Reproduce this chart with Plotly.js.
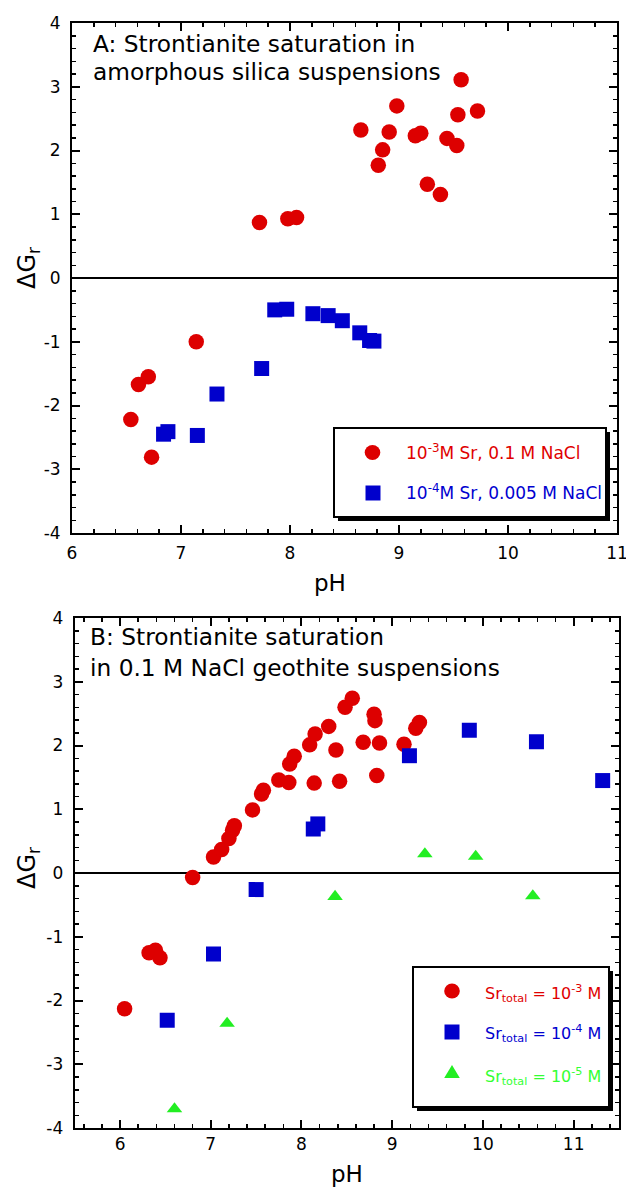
<!DOCTYPE html>
<html>
<head>
<meta charset="utf-8">
<script src="https://cdn.plot.ly/plotly-3.0.1.min.js"></script>
<style>
  html, body { margin: 0; padding: 0; background: #ffffff; }
  #chart { width: 626px; height: 1189px; }
</style>
</head>
<body>
<div id="chart"></div>
<script>
// Panel A: amorphous silica suspensions
var phA_sr3 = [6.54, 6.61, 6.70, 6.73, 7.14, 7.72, 7.98, 8.06, 8.65, 8.81, 8.85, 8.91, 8.98, 9.15, 9.20, 9.26, 9.38, 9.44, 9.53, 9.54, 9.57, 9.72];
var dgA_sr3 = [-2.22, -1.67, -1.55, -2.81, -1.00, 0.87, 0.93, 0.95, 2.32, 1.77, 2.01, 2.29, 2.70, 2.23, 2.27, 1.47, 1.31, 2.19, 2.08, 2.56, 3.11, 2.62];
var phA_sr4 = [6.84, 6.88, 7.15, 7.33, 7.74, 7.86, 7.97, 8.21, 8.35, 8.48, 8.64, 8.73, 8.77];
var dgA_sr4 = [-2.45, -2.41, -2.47, -1.82, -1.42, -0.50, -0.49, -0.56, -0.59, -0.67, -0.86, -0.98, -0.99];

// Panel B: 0.1 M NaCl goethite suspensions
var phB_sr3 = [6.05, 6.32, 6.39, 6.44, 6.80, 7.03, 7.12, 7.20, 7.24, 7.26, 7.46, 7.56, 7.58, 7.75, 7.86, 7.87, 7.92, 8.09, 8.14, 8.15, 8.30, 8.38, 8.42, 8.48, 8.56, 8.68, 8.80, 8.81, 8.83, 8.86, 9.13, 9.26, 9.30];
var dgB_sr3 = [-2.13, -1.25, -1.21, -1.33, -0.07, 0.25, 0.37, 0.54, 0.67, 0.74, 0.99, 1.24, 1.30, 1.46, 1.42, 1.71, 1.83, 2.01, 1.41, 2.18, 2.30, 1.93, 1.44, 2.60, 2.74, 2.05, 2.49, 2.39, 1.53, 2.04, 2.02, 2.27, 2.36];
var phB_sr4 = [6.52, 7.03, 7.50, 8.13, 8.18, 9.19, 9.85, 10.59, 11.32];
var dgB_sr4 = [-2.31, -1.27, -0.26, 0.69, 0.77, 1.84, 2.24, 2.06, 1.45];
var phB_sr5 = [6.60, 7.18, 8.37, 9.36, 9.92, 10.55];
var dgB_sr5 = [-3.70, -2.36, -0.37, 0.30, 0.26, -0.36];

// Axis ticks and labels
var phTicksA = [6, 7, 8, 9, 10, 11];
var phTicksB = [6, 7, 8, 9, 10, 11];
var dgTicks = [-4, -3, -2, -1, 0, 1, 2, 3, 4];
var dgTickText = ['-4', '-3', '-2', '-1', '0', '1', '2', '3', '4'];

// Text
var titleA = ['A: Strontianite saturation in', 'amorphous silica suspensions'];
var titleB = ['B: Strontianite saturation', 'in 0.1 M NaCl geothite suspensions'];
var legendA = ['10<sup>-3</sup>M Sr, 0.1 M NaCl', '10<sup>-4</sup>M Sr, 0.005 M NaCl'];
var legendB = ['Sr<sub>total</sub> = 10<sup>-3</sup> M', 'Sr<sub>total</sub> = 10<sup>-4</sup> M', 'Sr<sub>total</sub> = 10<sup>-5</sup> M'];
var xTitle = 'pH';
var yTitle = '\u0394G<sub>r</sub>';

var RED = '#dd0000', BLUE = '#0000cc', GREEN = '#22ee22';
var RED_T = '#e00000', BLUE_T = '#0000d0', GREEN_T = '#33ff33';
var FONT = 'DejaVu Sans, Liberation Sans, Arial, sans-serif';

var W = 626, H = 1189;
function px(x) { return x / W; }
function py(y) { return 1 - y / H; }

function axisX(domain, anchor, range, ticks, standoff) {
  return {
    domain: domain, anchor: anchor, range: range,
    tickmode: 'array', tickvals: ticks, ticktext: ticks.map(String),
    ticks: 'inside', ticklen: 8, tickwidth: 2, tickcolor: 'black',
    minor: { tickmode: 'linear', tick0: 0, dtick: 0.2, ticks: 'inside', ticklen: 4, tickwidth: 1.5, tickcolor: 'black' },
    showline: true, linewidth: 2, linecolor: 'black', mirror: 'allticks',
    showgrid: false, zeroline: false, ticklabelstandoff: standoff,
    ticklabeloverflow: 'allow',
    tickfont: { family: FONT, size: 17, color: 'black' }
  };
}
function axisY(domain, anchor, standoff) {
  return {
    domain: domain, anchor: anchor, range: [-4, 4],
    tickmode: 'array', tickvals: dgTicks, ticktext: dgTickText,
    ticks: 'inside', ticklen: 8, tickwidth: 2, tickcolor: 'black',
    minor: { tickmode: 'linear', tick0: 0, dtick: 0.2, ticks: 'inside', ticklen: 4, tickwidth: 1.5, tickcolor: 'black' },
    showline: true, linewidth: 2, linecolor: 'black', mirror: 'allticks',
    showgrid: false, zeroline: true, zerolinecolor: 'black', zerolinewidth: 1.5,
    ticklabelstandoff: standoff, ticklabeloverflow: 'allow',
    tickfont: { family: FONT, size: 17, color: 'black' }
  };
}

function pts(x, y, xa, ya, sym, color, size) {
  return {
    type: 'scatter', mode: 'markers', x: x, y: y, xaxis: xa, yaxis: ya,
    marker: { symbol: sym, color: color, size: size, line: { width: 0 } },
    showlegend: false, hoverinfo: 'x+y'
  };
}

var traces = [
  pts(phA_sr3, dgA_sr3, 'x', 'y', 'circle', RED, 15.5),
  pts(phA_sr4, dgA_sr4, 'x', 'y', 'square', BLUE, 15),
  pts(phB_sr3, dgB_sr3, 'x2', 'y2', 'circle', RED, 15.5),
  pts(phB_sr4, dgB_sr4, 'x2', 'y2', 'square', BLUE, 15),
  pts(phB_sr5, dgB_sr5, 'x2', 'y2', 'triangle-up', GREEN, 13.5)
];

function txt(x, y, text, size, color, opts) {
  var a = {
    xref: 'paper', yref: 'paper', x: px(x), y: py(y), text: text,
    showarrow: false, xanchor: 'left', yanchor: 'middle',
    font: { family: FONT, size: size, color: color }
  };
  for (var k in (opts || {})) a[k] = opts[k];
  return a;
}

var annotations = [
  txt(91, 43.5, titleA[0], 23.3, 'black'),
  txt(91, 71.5, titleA[1], 23.3, 'black'),
  txt(88, 636.7, titleB[0], 23.3, 'black'),
  txt(88, 667.5, titleB[1], 23.3, 'black'),
  txt(330, 583, xTitle, 23, 'black', { xanchor: 'center' }),
  txt(347, 1174, xTitle, 23, 'black', { xanchor: 'center' }),
  txt(28, 268, yTitle, 24, 'black', { xanchor: 'center', textangle: -90 }),
  txt(28, 868, yTitle, 24, 'black', { xanchor: 'center', textangle: -90 }),
  txt(404, 452, legendA[0], 17, RED_T),
  txt(404, 492, legendA[1], 17, BLUE_T),
  txt(483, 993, legendB[0], 16, RED_T),
  txt(483, 1033, legendB[1], 16, BLUE_T),
  txt(483, 1076, legendB[2], 16, GREEN_T)
];

// Legend frames with drop shadow, and the legend symbols
function box(x0, y0, x1, y1) {
  return [
    { type: 'rect', xref: 'paper', yref: 'paper', x0: px(x0 + 4), x1: px(x1 + 4), y0: py(y1 + 4), y1: py(y0 + 4),
      fillcolor: 'black', line: { width: 0 }, layer: 'above' },
    { type: 'rect', xref: 'paper', yref: 'paper', x0: px(x0), x1: px(x1), y0: py(y1), y1: py(y0),
      fillcolor: 'white', line: { color: 'black', width: 2 }, layer: 'above' }
  ];
}
function sym(kind, cx, cy, color) {
  var s = { xref: 'paper', yref: 'paper', xsizemode: 'pixel', ysizemode: 'pixel',
            xanchor: px(cx), yanchor: py(cy), fillcolor: color, line: { width: 0 }, layer: 'above' };
  if (kind === 'circle') { s.type = 'circle'; s.x0 = -7.8; s.x1 = 7.8; s.y0 = -7.5; s.y1 = 7.5; }
  else if (kind === 'square') { s.type = 'rect'; s.x0 = -7.5; s.x1 = 7.5; s.y0 = -7.5; s.y1 = 7.5; }
  else { s.type = 'path'; s.path = 'M-7.8,-5 L7.8,-5 L0,8 Z'; }
  return s;
}

var shapes = [].concat(
  box(334, 428, 606, 517),
  box(413, 967, 609, 1107),
  [sym('circle', 372.5, 452.5, RED), sym('square', 373, 493, BLUE),
   sym('circle', 452, 991, RED), sym('square', 452, 1032, BLUE), sym('triangle', 452, 1073, GREEN)]
);

var layout = {
  width: W, height: H,
  margin: { l: 0, r: 0, t: 0, b: 0 },
  paper_bgcolor: 'white', plot_bgcolor: 'white',
  showlegend: false,
  font: { family: FONT, color: 'black' },
  xaxis: axisX([72 / W, 617 / W], 'y', [6, 11], phTicksA, 4),
  yaxis: axisY([py(533), py(23)], 'x', 6),
  xaxis2: axisX([74.7 / W, 619 / W], 'y2', [5.5, 11.5], phTicksB, 0),
  yaxis2: axisY([py(1128), py(618)], 'x2', 6),
  annotations: annotations,
  shapes: shapes
};

Plotly.newPlot('chart', traces, layout, { displayModeBar: false, staticPlot: true });
</script>
</body>
</html>
